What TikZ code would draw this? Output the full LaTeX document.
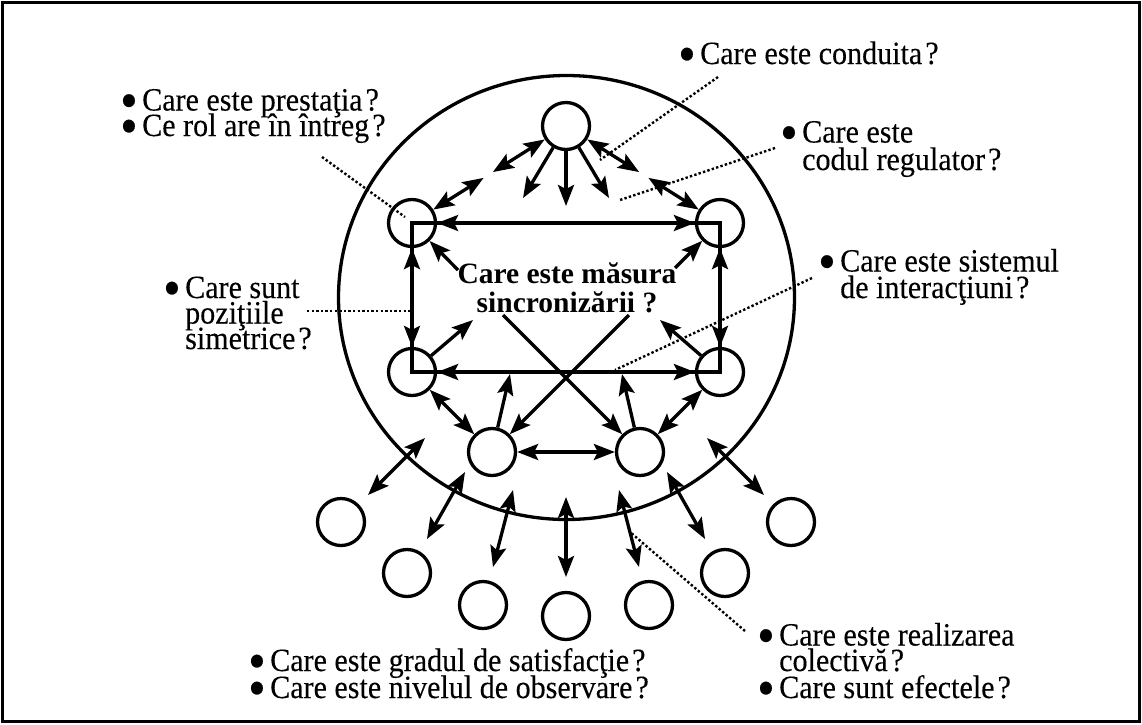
\documentclass[tikz,border=0pt]{standalone}
\usepackage{fontspec}
\setmainfont{Liberation Serif}
% a slightly condensed, slightly heavier cut for the questions
\newfontfamily\qfont{Liberation Serif}[FakeStretch=0.925,FakeBold=0.2]
\usetikzlibrary{arrows.meta,calc}

% enlarged bullet set in a fixed-width box, and the matching hanging indent
\newcommand\bul{\makebox[22pt][l]{\raisebox{-8pt}[0pt][0pt]{\fontsize{54}{54}\selectfont\char"2022}}}
\newcommand\ind{\makebox[22pt]{}}
\newcommand\qm{\kern3pt?}
% lines always one baselineskip apart, whatever their contents
\newcommand\tightlines{\lineskiplimit=-100pt\relax}

\begin{document}
\begin{tikzpicture}[x=1pt,y=-1pt,
  ball/.style={circle,draw,line width=3.3pt,minimum size=47pt,inner sep=0pt},
  tip/.tip={Stealth[length=21pt,width=16pt,inset=4pt]},
  arr/.style={line width=3.3pt,-tip},
  dbl/.style={line width=3.3pt,tip-tip},
  dots/.style={line width=2.4pt,dash pattern=on 2.4pt off 2.2pt},
  lbl/.style={anchor=base west,inner sep=0pt,align=left,
    font=\qfont\fontsize{32.5}{25.5}\selectfont\tightlines},
]
\useasboundingbox (0,0) rectangle (1142,724);
\draw[line width=3.4pt] (2.5,2.5) rectangle (1139.5,721.5);

% the group boundary
\draw[line width=3.3pt] (566.5,297.5) ellipse [x radius=228, y radius=222];

% members
\node[ball] (T)  at (566,126) {};
\node[ball] (UL) at (412,223) {};
\node[ball] (UR) at (720,223) {};
\node[ball] (LL) at (412,372) {};
\node[ball] (LR) at (720,372) {};
\node[ball] (BL) at (492,452) {};
\node[ball] (BR) at (640,452) {};
\node[ball] (O1) at (341,522) {};
\node[ball] (O2) at (407,573) {};
\node[ball] (O3) at (483,605) {};
\node[ball] (O4) at (566,616) {};
\node[ball] (O5) at (649,605) {};
\node[ball] (O6) at (725,573) {};
\node[ball] (O7) at (791,522) {};

% symmetric positions
\draw[line width=3.3pt] (UL.center) rectangle (LR.center);

% leader at the top
\draw[dbl] (T) -- ($(T)!0.475!(UL)$);
\draw[dbl] ($(T)!0.535!(UL)$) -- (UL);
\draw[dbl] (T) -- ($(T)!0.475!(UR)$);
\draw[dbl] ($(T)!0.535!(UR)$) -- (UR);
\coordinate (t1) at (523,198);
\coordinate (t2) at (566,206);
\coordinate (t3) at (609,198);
\draw[arr] (T) -- (t1);
\draw[arr] (T) -- (t2);
\draw[arr] (T) -- (t3);

% interactions around the rectangle
\draw[dbl] (UL) -- (UR);
\draw[dbl] (UL) -- (LL);
\draw[dbl] (UR) -- (LR);
\draw[dbl] (LL) -- (LR);

% central question and its arrows
\node[font=\bfseries\fontsize{29.5}{29}\selectfont\tightlines,align=center,anchor=base,inner sep=0pt] (qc) at (567,312) {Care este măsura\\sincronizării ?};
\coordinate (c1) at (458,270);
\coordinate (c2) at (675,268);
\coordinate (c3) at (473,320);
\coordinate (c4) at (660,320);
\coordinate (c5) at (503,315);
\coordinate (c6) at (629,315);
\coordinate (c7) at (510,374);
\coordinate (c8) at (622,374);
\draw[arr] (c1) -- (UL);
\draw[arr] (c2) -- (UR);
\draw[arr] (LL) -- (c3);
\draw[arr] (LR) -- (c4);
\draw[arr] (c5) -- (BR);
\draw[arr] (c6) -- (BL);
\draw[arr] (BL) -- (c7);
\draw[arr] (BR) -- (c8);
\draw[dbl] (LL) -- (BL);
\draw[dbl] (LR) -- (BR);
\draw[dbl] (BL) -- (BR);

% exchanges with the outside
\coordinate (a1) at (425,438); \coordinate (b1) at (368,495);
\coordinate (a2) at (465,472); \coordinate (b2) at (427,539);
\coordinate (a3) at (513,490); \coordinate (b3) at (493,567);
\coordinate (a4) at (566,497); \coordinate (b4) at (566,577);
\coordinate (a5) at (619,490); \coordinate (b5) at (639,567);
\coordinate (a6) at (667,472); \coordinate (b6) at (705,539);
\coordinate (a7) at (707,438); \coordinate (b7) at (764,495);
\foreach \i in {1,...,7} \draw[dbl] (a\i) -- (b\i);

% questions (each node sits on the baseline of its last line)
\node[lbl] (q1) at (678,64) {\bul Care este conduita\qm};
\node[lbl] (q2) at (120,136) {\bul Care este prestaţia\qm\\\bul Ce rol are în întreg\qm};
\node[lbl] (q3) at (780,170) {\bul Care este\\[2pt]\ind codul regulator\qm};
\node[lbl] (q4) at (163,349) {\bul Care sunt\\\ind poziţiile\\\ind simetrice\qm};
\node[lbl] (q5) at (818,298) {\bul Care este sistemul\\[1pt]\ind de interacţiuni\qm};
\node[lbl] (q6) at (757,698) {\bul Care este realizarea\\\ind colectivă\qm\\[1.5pt]\bul Care sunt efectele\qm};
\node[lbl] (q7) at (248,698) {\bul Care este gradul de satisfacţie\qm\\[1.5pt]\bul Care este nivelul de observare\qm};

% dotted leaders
\coordinate (e1) at (718,77);  \coordinate (f1) at (600,160);
\coordinate (e2) at (775,148); \coordinate (f2) at (620,200);
\coordinate (e3) at (322,157); \coordinate (f3) at (405,217);
\coordinate (e4) at (307,311); \coordinate (f4) at (412,311);
\coordinate (e5) at (812,278); \coordinate (f5) at (615,370);
\coordinate (e6) at (745,631); \coordinate (f6) at (630,532);
\foreach \i in {1,...,6} \draw[dots] (e\i) -- (f\i);
\end{tikzpicture}
\end{document}
